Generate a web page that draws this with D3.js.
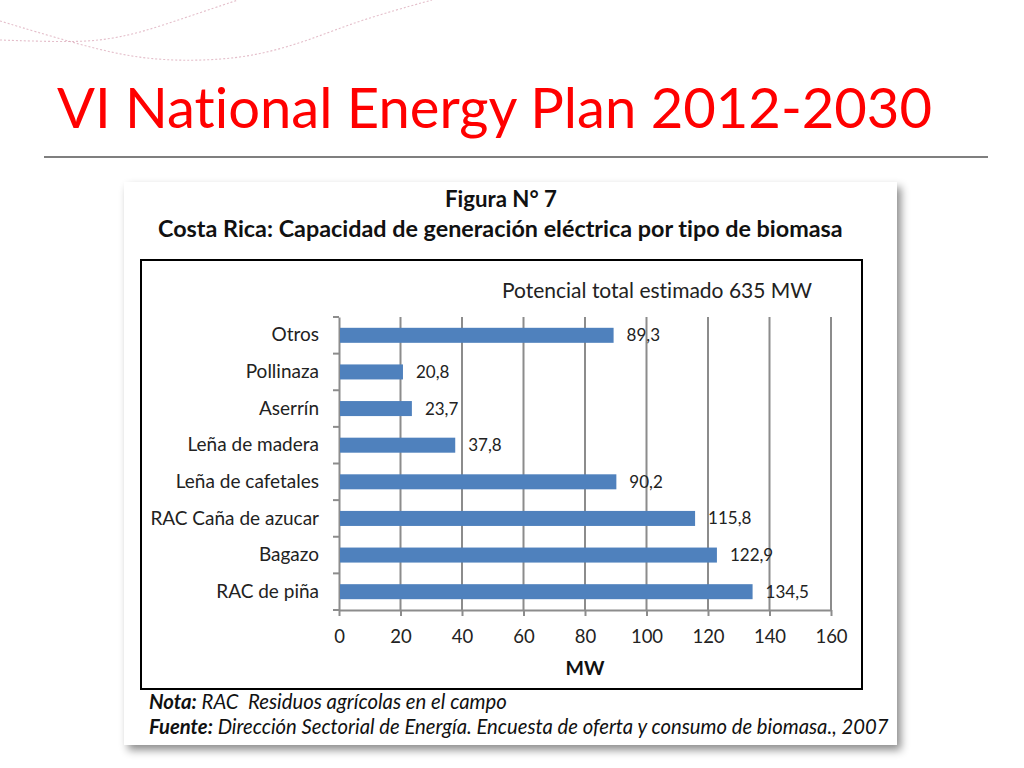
<!DOCTYPE html>
<html>
<head>
<meta charset="utf-8">
<script src="https://cdn.jsdelivr.net/npm/d3@7"></script>
<style>
  html, body { margin: 0; padding: 0; background: #ffffff; }
  svg { display: block; }
  text { font-variant-ligatures: none; white-space: pre; }
</style>
</head>
<body>
<svg id="chart" width="1024" height="768"></svg>
<script>
// ---- data ----
const categories = ["Otros", "Pollinaza", "Aserrín", "Leña de madera", "Leña de cafetales", "RAC Caña de azucar", "Bagazo", "RAC de piña"];
const values = [89.3, 20.8, 23.7, 37.8, 90.2, 115.8, 122.9, 134.5];
const xTicks = [0, 20, 40, 60, 80, 100, 120, 140, 160];
const slideTitle = "VI National Energy Plan 2012-2030";
const figTitle = "Figura N° 7";
const figSubtitle = "Costa Rica: Capacidad de generación eléctrica por tipo de biomasa";
const annotation = "Potencial total estimado 635 MW";
const xAxisTitle = "MW";
const notaLabel = "Nota:", notaText = " RAC  Residuos agrícolas en el campo";
const fuenteLabel = "Fuente:", fuenteText = " Dirección Sectorial de Energía. Encuesta de oferta y consumo de biomasa., 2007";

const FONT = "Lato, 'Open Sans', sans-serif";
const svg = d3.select("#chart");
const locale = d3.formatLocale({decimal: ",", thousands: ".", grouping: [3], currency: ["", ""]});
const fmt = locale.format(".1f");

function fitText(sel, targetWidth) {
  const node = sel.node();
  const w = node.getComputedTextLength();
  const fs = parseFloat(sel.attr("font-size"));
  sel.attr("font-size", (fs * targetWidth / w).toFixed(2));
  return sel;
}

// ---- decorative curves at top ----
const deco = [
  [[0,40],[60,42],[100,41],[140,33],[190,16],[238,0]],
  [[0,21],[70,42],[140,60],[210,61],[260,55],[310,40],[360,20],[432,0]]
];
const curve = d3.line().curve(d3.curveBasis);
svg.selectAll("path.deco").data(deco).join("path")
  .attr("class", "deco")
  .attr("d", curve)
  .attr("fill", "none")
  .attr("stroke", "#d9a3b3")
  .attr("stroke-width", 1.1)
  .attr("stroke-dasharray", "2,2")
  .attr("opacity", 0.7);

// ---- slide title ----
const t = svg.append("text").attr("x", 57).attr("y", 128)
  .attr("font-family", FONT).attr("font-size", 54).attr("fill", "#ff0000")
  .text(slideTitle);
fitText(t, 875);

svg.append("line").attr("x1", 44).attr("x2", 988).attr("y1", 157).attr("y2", 157)
  .attr("stroke", "#7f7f7f").attr("stroke-width", 2);

// ---- panel with shadow ----
const defs = svg.append("defs");
const f = defs.append("filter").attr("id", "shadow").attr("x", "-5%").attr("y", "-5%").attr("width", "115%").attr("height", "115%");
f.append("feDropShadow").attr("dx", 4).attr("dy", 5).attr("stdDeviation", 4).attr("flood-color", "#000").attr("flood-opacity", 0.45);

svg.append("rect").attr("x", 124).attr("y", 182).attr("width", 773).attr("height", 563)
  .attr("fill", "#ffffff").attr("filter", "url(#shadow)");

// figure titles
const ft = svg.append("text").attr("x", 501).attr("y", 207).attr("text-anchor", "middle")
  .attr("font-family", FONT).attr("font-weight", "bold").attr("font-size", 20).attr("fill", "#111")
  .text(figTitle);
fitText(ft, 112);
const fs2 = svg.append("text").attr("x", 158).attr("y", 237)
  .attr("font-family", FONT).attr("font-weight", "bold").attr("font-size", 20).attr("fill", "#111")
  .text(figSubtitle);
fitText(fs2, 685);

// inner chart box
svg.append("rect").attr("x", 141).attr("y", 260).attr("width", 721).attr("height", 429)
  .attr("fill", "#ffffff").attr("stroke", "#000").attr("stroke-width", 2);

// annotation
const an = svg.append("text").attr("x", 502).attr("y", 298)
  .attr("font-family", FONT).attr("font-size", 19).attr("fill", "#222")
  .text(annotation);
fitText(an, 310);

// ---- scales ----
const plot = {left: 339, right: 831, top: 317, bottom: 610};
const x = d3.scaleLinear().domain([0, 160]).range([plot.left, plot.right]);
const y = d3.scaleBand().domain(categories).range([plot.top, plot.bottom]).paddingInner(0.59).paddingOuter(0.295);

const g = svg.append("g");

// gridlines
g.selectAll("line.grid").data(xTicks.filter(d => d > 0)).join("line")
  .attr("class", "grid")
  .attr("x1", d => x(d)).attr("x2", d => x(d))
  .attr("y1", plot.top).attr("y2", plot.bottom)
  .attr("stroke", "#8c8c8c").attr("stroke-width", 2);

// x axis
const xAxis = g.append("g").attr("transform", `translate(0,${plot.bottom})`)
  .call(d3.axisBottom(x).tickValues(xTicks).tickSize(6).tickSizeOuter(0).tickPadding(12).tickFormat(d3.format("d")));
xAxis.select(".domain").attr("stroke", "#8c8c8c").attr("stroke-width", 2);
xAxis.selectAll(".tick line").attr("stroke", "#8c8c8c").attr("stroke-width", 2).attr("y1", 0);
xAxis.selectAll(".tick text").attr("font-family", FONT).attr("font-size", 18.5).attr("fill", "#222").attr("dy", "0.8em");

// y axis
const yAxis = g.append("g").attr("transform", `translate(${plot.left},0)`)
  .call(d3.axisLeft(y).tickSize(0).tickPadding(20));
yAxis.select(".domain").attr("stroke", "#8c8c8c").attr("stroke-width", 2);
yAxis.selectAll(".tick text").attr("font-family", FONT).attr("font-size", 19).attr("fill", "#222");
// boundary ticks between bands
const bounds = d3.range(categories.length + 1).map(i => plot.top + i * (plot.bottom - plot.top) / categories.length);
yAxis.selectAll("line.bt").data(bounds).join("line").attr("class", "bt")
  .attr("x1", -6).attr("x2", 0).attr("y1", d => d).attr("y2", d => d)
  .attr("stroke", "#8c8c8c").attr("stroke-width", 2);

// bars
const data = categories.map((c, i) => ({c, v: values[i]}));
g.selectAll("rect.bar").data(data).join("rect").attr("class", "bar")
  .attr("x", x(0) + 1).attr("y", d => y(d.c))
  .attr("width", d => x(d.v) - x(0) - 1).attr("height", y.bandwidth())
  .attr("fill", "#4f81bd");

// value labels
g.selectAll("text.val").data(data).join("text").attr("class", "val")
  .attr("x", d => x(d.v) + 13).attr("y", d => y(d.c) + y.bandwidth() / 2)
  .attr("dy", "0.35em")
  .attr("font-family", FONT).attr("font-size", 17).attr("fill", "#222")
  .text(d => fmt(d.v));

// x axis title
svg.append("text").attr("x", 585).attr("y", 675).attr("text-anchor", "middle")
  .attr("font-family", FONT).attr("font-weight", "bold").attr("font-size", 19.5).attr("fill", "#111")
  .text(xAxisTitle);

// notes
const n1 = svg.append("text").attr("x", 149).attr("y", 709)
  .attr("font-family", FONT).attr("font-style", "italic").attr("font-size", 17).attr("fill", "#111");
n1.append("tspan").attr("font-weight", "bold").text(notaLabel);
n1.append("tspan").text(notaText);
fitText(n1, 358);
const n2 = svg.append("text").attr("x", 149).attr("y", 734)
  .attr("font-family", FONT).attr("font-style", "italic").attr("font-size", 17).attr("fill", "#111");
n2.append("tspan").attr("font-weight", "bold").text(fuenteLabel);
n2.append("tspan").text(fuenteText);
fitText(n2, 740);
</script>
</body>
</html>
